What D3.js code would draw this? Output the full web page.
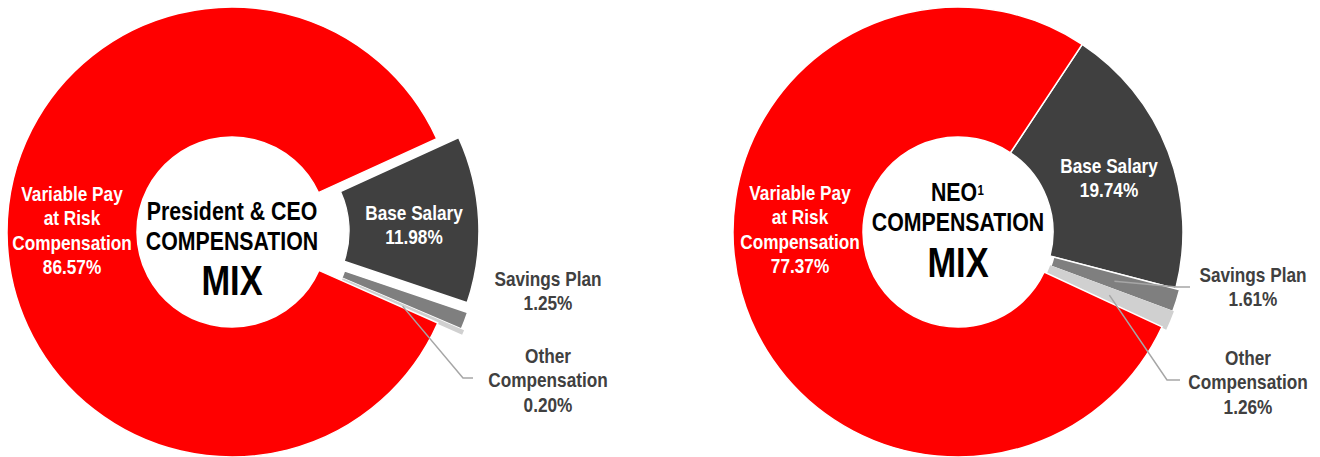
<!DOCTYPE html>
<html>
<head>
<meta charset="utf-8">
<script src="https://cdn.jsdelivr.net/npm/d3@7"></script>
<style>
  body { margin: 0; background: #fff; }
  svg text { font-family: "Liberation Sans", Arial, sans-serif; font-weight: bold; }
</style>
</head>
<body>
<svg class="svg" width="1320" height="457"></svg>
<script>
// slices go clockwise starting at the base salary wedge
let categories = ['Base Salary', 'Savings Plan', 'Other Compensation', 'Variable Pay at Risk Compensation'];
let labelWords = [['Base Salary'], ['Savings Plan'], ['Other', 'Compensation'], ['Variable Pay', 'at Risk', 'Compensation']];
let ceoValues = [11.98, 1.25, 0.20, 86.57];
let neoValues = [19.74, 1.61, 1.26, 77.37];
let sliceColors = ['#404040', '#7f7f7f', '#d0d0d0', '#ff0000'];
let labelColors = ['#fff', '#404040', '#404040', '#fff'];

let outerR = 225, innerR = 95;
let narrow = 0.82; // no Arial Narrow here, so squeeze the glyphs
let fmt = d3.format('.2f');

let charts = [
    {
        values: ceoValues, cx: 232, cy: 232, startDeg: 65.5,
        explode: [22, 24, 26, 0],
        labelPos: [[414, 220], [548, 286], [548, 363], [72, 201]],
        leader: [null, null, [[463, 378], [473, 378]], null],
        title: [['President & CEO', 26, 220], ['COMPENSATION', 26, 250], ['MIX', 42, 295]]
    },
    {
        values: neoValues, cx: 958, cy: 232, startDeg: 33.5,
        explode: [0, 4, 4, 0],
        labelPos: [[1109, 173], [1253, 282], [1248, 365], [800, 200]],
        leader: [null, [[1177, 287], [1190, 287]], [[1167, 380], [1180, 380]], null],
        title: [['NEO', 26, 201], ['COMPENSATION', 26, 231], ['MIX', 42, 277]]
    }
];

let svg = d3.select('.svg');

// narrow text: draw at the origin and scale it horizontally
function narrowText(x, y, size, fill, str, anchor) {
    return svg.append('text')
        .attr('transform', 'translate(' + x + ',' + y + ') scale(' + narrow + ',1)')
        .attr('text-anchor', anchor || 'middle')
        .attr('fill', fill)
        .style('font-size', size + 'px')
        .text(str);
}

function drawDonut(c, idx) {
    let start = c.startDeg * Math.PI / 180;
    let pie = d3.pie().sort(null).value(d => d).startAngle(start).endAngle(start + 2 * Math.PI);
    let arc = d3.arc().innerRadius(innerR).outerRadius(outerR);
    let arcs = pie(c.values);

    let g = svg.append('g').attr('class', 'donut' + idx)
        .attr('transform', 'translate(' + c.cx + ',' + c.cy + ')');

    // offset of an exploded wedge along its bisector
    function shift(d, i) {
        let mid = (d.startAngle + d.endAngle) / 2;
        return [Math.sin(mid) * c.explode[i], -Math.cos(mid) * c.explode[i]];
    }

    g.selectAll('path')
        .data(arcs)
        .enter()
        .append('path')
        .attr('d', arc)
        .attr('transform', (d, i) => 'translate(' + shift(d, i) + ')')
        .attr('fill', (d, i) => sliceColors[i])
        .attr('stroke', (d, i) => i === 2 ? sliceColors[i] : '#fff')
        .attr('stroke-width', (d, i) => i === 2 ? 2 : 1.5);

    // leader lines for the thin wedges
    arcs.forEach(function (d, i) {
        if (!c.leader[i]) return;
        let mid = (d.startAngle + d.endAngle) / 2;
        let off = shift(d, i);
        let p0 = [c.cx + Math.sin(mid) * 160 + off[0], c.cy - Math.cos(mid) * 160 + off[1]];
        let pts = [p0].concat(c.leader[i]);
        svg.append('path')
            .attr('d', d3.line()(pts))
            .attr('fill', 'none')
            .attr('stroke', '#a6a6a6')
            .attr('stroke-width', 1.5);
    });

    // slice labels, one text per line
    arcs.forEach(function (d, i) {
        let lines = labelWords[i].concat([fmt(c.values[i]) + '%']);
        lines.forEach(function (l, k) {
            narrowText(c.labelPos[i][0], c.labelPos[i][1] + k * 24.3, 21, labelColors[i], l);
        });
    });

    // centre title
    c.title.forEach(function (row) {
        if (row[0] === 'NEO') {
            // NEO with a superscript 1
            narrowText(c.cx - 4, row[2], row[1], '#000', row[0]);
            narrowText(c.cx + 19.5, row[2] - 6, 14, '#000', '1', 'start');
        } else {
            narrowText(c.cx, row[2], row[1], '#000', row[0]);
        }
    });
}

charts.forEach(drawDonut);
</script>
</body>
</html>
